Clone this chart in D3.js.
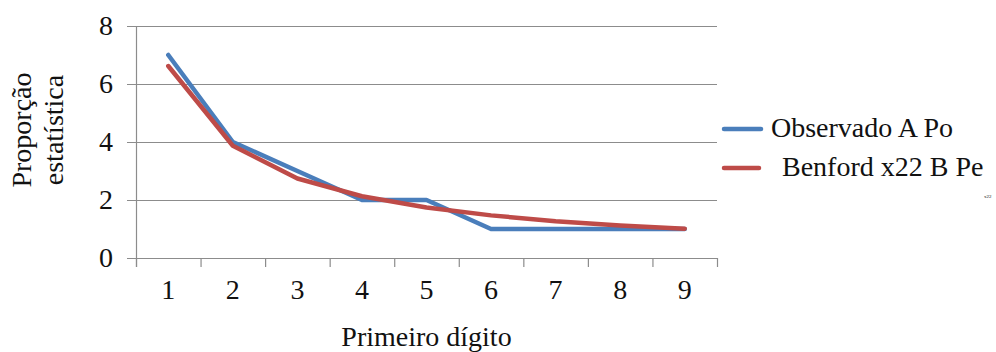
<!DOCTYPE html>
<html>
<head>
<meta charset="utf-8">
<script src="https://cdn.jsdelivr.net/npm/d3@7/dist/d3.min.js"></script>
<style>
  html, body { margin: 0; padding: 0; background: #fff; }
  svg { display: block; }
  svg text { font-family: "Times New Roman", Times, "Liberation Serif", "DejaVu Serif", serif !important; fill: #111; }
</style>
</head>
<body>
<svg id="chart" width="996" height="352"></svg>
<script>
const categories = ["1", "2", "3", "4", "5", "6", "7", "8", "9"];
const observado = [7, 4, 3, 2, 2, 1, 1, 1, 1];
const benford = [6.62, 3.87, 2.74, 2.13, 1.74, 1.47, 1.27, 1.12, 1.01];
const yTicks = [0, 2, 4, 6, 8];
const seriesNames = ["Observado A Po", "Benford x22 B Pe"];
const colors = ["#4a7ebb", "#be4b48"];

(function () {
const FONT = '"Times New Roman", Times, "Liberation Serif", "DejaVu Serif", serif';
const svg = d3.select("#chart");
const pLeft = 136, pRight = 717, pTop = 26, pBottom = 258;

const x = d3.scaleBand().domain(categories).range([pLeft, pRight]).padding(0);
const y = d3.scaleLinear().domain([0, 8]).range([pBottom, pTop]);

// gridlines
svg.append("g").selectAll("line").data(yTicks).join("line")
  .attr("x1", pLeft - 9).attr("x2", pRight)
  .attr("y1", d => y(d) + 0.5).attr("y2", d => y(d) + 0.5)
  .attr("stroke", "#8c8c8c").attr("stroke-width", 1.2);

// y axis
const yAxis = svg.append("g").attr("transform", `translate(${pLeft},0)`)
  .call(d3.axisLeft(y).tickValues(yTicks).tickSize(0).tickPadding(23).tickFormat(d3.format("d")));
yAxis.attr("font-family", FONT);
yAxis.select(".domain").remove();
yAxis.selectAll("text").attr("font-size", 28).style("font-family", FONT).attr("fill", "#111");
svg.append("line").attr("x1", pLeft + 0.5).attr("x2", pLeft + 0.5).attr("y1", pTop).attr("y2", pBottom + 9)
  .attr("stroke", "#8c8c8c").attr("stroke-width", 1.2);

// x axis ticks at category boundaries
const bounds = categories.map(c => x(c)).concat([x(categories[categories.length - 1]) + x.bandwidth()]);
svg.append("g").selectAll("line").data(bounds).join("line")
  .attr("x1", d => d + 0.5).attr("x2", d => d + 0.5)
  .attr("y1", pBottom).attr("y2", pBottom + 9)
  .attr("stroke", "#8c8c8c").attr("stroke-width", 1.2);

const xAxis = svg.append("g").attr("transform", `translate(0,${pBottom})`)
  .call(d3.axisBottom(x).tickSize(0).tickPadding(21));
xAxis.attr("font-family", FONT);
xAxis.select(".domain").remove();
xAxis.selectAll("text").attr("font-size", 28).style("font-family", FONT).attr("fill", "#111");

// axis titles
svg.append("text").attr("x", (pLeft + pRight) / 2).attr("y", 346)
  .attr("text-anchor", "middle").attr("font-size", 28).style("font-family", FONT).text("Primeiro dígito");
const yt = svg.append("text").attr("transform", "translate(31,130) rotate(-90)")
  .attr("text-anchor", "middle").attr("font-size", 28).style("font-family", FONT);
yt.append("tspan").attr("x", 0).attr("y", 0).text("Proporção");
yt.append("tspan").attr("x", 0).attr("y", 32).text("estatística");

// lines
const line = d3.line().x((d, i) => x(categories[i]) + x.bandwidth() / 2).y(d => y(d));
[observado, benford].forEach((s, i) => {
  svg.append("path").datum(s).attr("d", line)
    .attr("fill", "none").attr("stroke", colors[i]).attr("stroke-width", 4.5)
    .attr("stroke-linejoin", "round").attr("stroke-linecap", "round");
});

// legend
const lg = svg.append("g");
const legendRows = [{y: 129, tx: 771, ty: 137, x2: 761}, {y: 168, tx: 782, ty: 176, x2: 759}];
legendRows.forEach((r, i) => {
  lg.append("line").attr("x1", 724).attr("x2", r.x2).attr("y1", r.y).attr("y2", r.y)
    .attr("stroke", colors[i]).attr("stroke-width", 4.5).attr("stroke-linecap", "round");
  lg.append("text").attr("x", r.tx).attr("y", r.ty).attr("font-size", 28).style("font-family", FONT).text(seriesNames[i]);
});
svg.append("text").attr("x", 984).attr("y", 198).attr("font-size", 5).style("font-family", FONT).attr("fill", "#555").text("x22");
})();
</script>
</body>
</html>
